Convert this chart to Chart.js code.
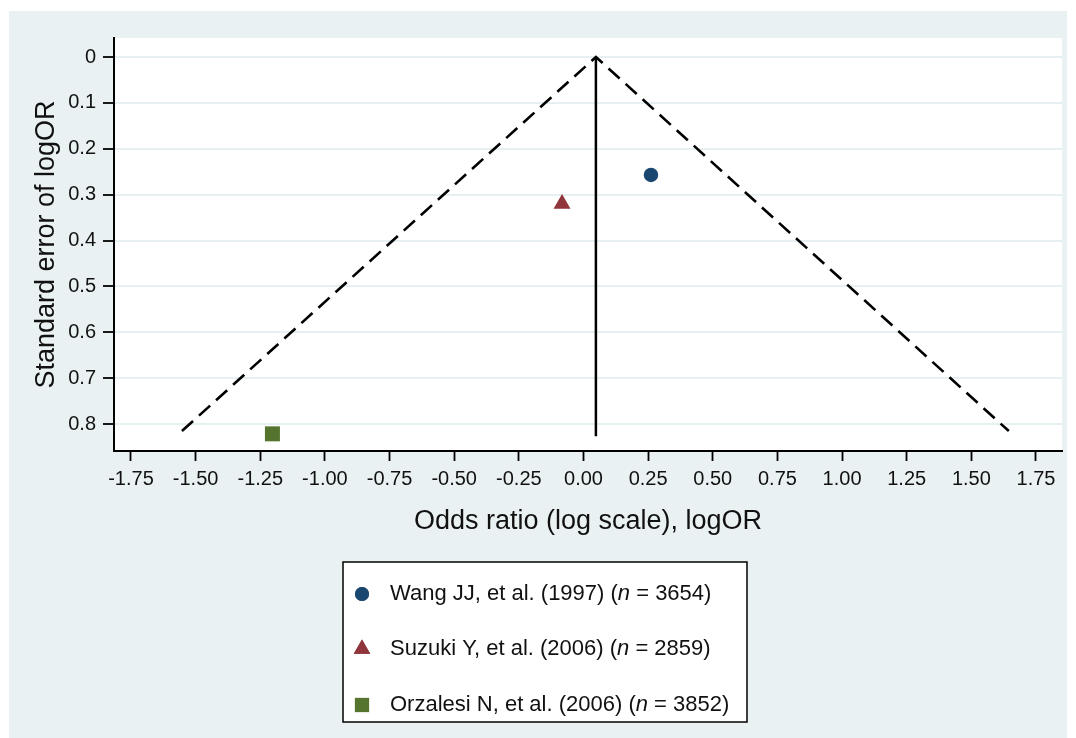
<!DOCTYPE html>
<html>
<head>
<meta charset="utf-8">
<script src="https://cdn.jsdelivr.net/npm/chart.js@4/dist/chart.umd.min.js"></script>
<style>
  body { margin: 0; background: #fff; }
</style>
</head>
<body>
<canvas id="funnel" width="1076" height="738"></canvas>
<script>
/*------------------------------------------------------------------------------------------------*/
//datos estudios
const studies = ['Wang JJ, et al. (1997)', 'Suzuki Y, et al. (2006)', 'Orzalesi N, et al. (2006)'];
const sampleSizes = [3654, 2859, 3852];
const logOR = [0.261, -0.083, -1.203];
const seLogOR = [0.257, 0.320, 0.821];
const colors = ['#1a476f', '#90353b', '#55752f'];
const markers = ['circle', 'triangle', 'rect'];
const markerSize = [7.2, 9.8, 10.6];

//funnel (pseudo 95% limits) y linea vertical
const funnelX = [-1.553, 0.048, 1.645];
const funnelSE = [0.815, 0, 0.815];
const centerX = [0.048, 0.048];
const centerSE = [0, 0.826];

//ticks
const xTicks = [-1.75, -1.5, -1.25, -1, -0.75, -0.5, -0.25, 0, 0.25, 0.5, 0.75, 1, 1.25, 1.5, 1.75];
const yTicks = [0, 0.1, 0.2, 0.3, 0.4, 0.5, 0.6, 0.7, 0.8];

const FONT = "'Liberation Sans', Arial, sans-serif";
const panelColor = '#eaf1f3';

/*------------------------------------------------------------------------------------------------*/
//datasets
const datasets = [];
for (let i = 0; i < studies.length; i++) {
    datasets.push({
        label: studies[i],
        data: [{ x: logOR[i], y: seLogOR[i] }],
        pointStyle: markers[i],
        pointRadius: markerSize[i],
        pointHoverRadius: markerSize[i],
        backgroundColor: colors[i],
        borderColor: colors[i],
        borderWidth: 0,
        showLine: false
    });
}
datasets.push({
    label: 'funnel',
    data: funnelX.map((x, i) => ({ x: x, y: funnelSE[i] })),
    showLine: true,
    borderColor: '#000',
    borderWidth: 2.6,
    borderDash: [15, 8],
    pointRadius: 0,
    fill: false
});
datasets.push({
    label: 'pooled',
    data: centerX.map((x, i) => ({ x: x, y: centerSE[i] })),
    showLine: true,
    borderColor: '#000',
    borderWidth: 2.5,
    pointRadius: 0,
    fill: false
});

/*------------------------------------------------------------------------------------------------*/
//fondo y leyenda
const backgroundPlugin = {
    id: 'background',
    beforeDraw(chart) {
        const ctx = chart.ctx;
        const a = chart.chartArea;
        ctx.save();
        ctx.fillStyle = panelColor;
        ctx.fillRect(9, 11, 1058, 727);
        ctx.fillStyle = '#fff';
        ctx.fillRect(a.left, a.top, a.right - a.left, a.bottom - a.top);
        ctx.restore();
    }
};

const legendPlugin = {
    id: 'boxLegend',
    afterDraw(chart) {
        const ctx = chart.ctx;
        ctx.save();
        ctx.fillStyle = '#fff';
        ctx.fillRect(343, 562, 404, 160);
        ctx.strokeStyle = '#000';
        ctx.lineWidth = 1.5;
        ctx.strokeRect(343, 562, 404, 160);
        const rows = [594, 649, 705];
        const legendSize = [7, 9.5, 10];
        for (let i = 0; i < studies.length; i++) {
            ctx.fillStyle = colors[i];
            ctx.strokeStyle = colors[i];
            Chart.helpers.drawPoint(ctx, { pointStyle: markers[i], radius: legendSize[i], rotation: 0, borderWidth: 0 }, 362, rows[i]);
            ctx.fill();
            ctx.fillStyle = '#111';
            ctx.textBaseline = 'middle';
            let x = 390;
            const parts = [
                [studies[i] + ' (', 'normal'],
                ['n', 'italic'],
                [' = ' + sampleSizes[i] + ')', 'normal']
            ];
            for (const p of parts) {
                ctx.font = p[1] + ' 22px ' + FONT;
                ctx.fillText(p[0], x, rows[i]);
                x += ctx.measureText(p[0]).width;
            }
        }
        ctx.restore();
    }
};

/*------------------------------------------------------------------------------------------------*/
//grafico
const ctx = document.getElementById('funnel');
const myChart = new Chart(ctx, {
    type: 'scatter',
    data: { datasets: datasets },
    plugins: [backgroundPlugin, legendPlugin],
    options: {
        responsive: false,
        animation: false,
        devicePixelRatio: 1,
        layout: { padding: { left: 0, top: 38, right: 14, bottom: 192 } },
        plugins: {
            legend: { display: false },
            tooltip: { enabled: false }
        },
        scales: {
            x: {
                type: 'linear',
                min: -1.8157,
                max: 1.8506,
                afterBuildTicks: (scale) => { scale.ticks = xTicks.map(v => ({ value: v })); },
                afterFit: (scale) => { scale.height = 95; },
                ticks: {
                    callback: (v) => Number(v).toFixed(2),
                    color: '#111',
                    font: { family: FONT, size: 20 },
                    padding: 6,
                    maxRotation: 0,
                    autoSkip: false
                },
                grid: {
                    drawOnChartArea: false,
                    tickColor: '#000',
                    tickLength: 10,
                    tickWidth: 1.8
                },
                border: { color: '#000', width: 2 },
                title: {
                    display: true,
                    text: 'Odds ratio (log scale), logOR',
                    color: '#111',
                    font: { family: FONT, size: 27 },
                    padding: { top: 0, bottom: 8 }
                }
            },
            y: {
                type: 'linear',
                reverse: true,
                min: -0.0414,
                max: 0.8584,
                afterBuildTicks: (scale) => { scale.ticks = yTicks.map(v => ({ value: v })); },
                afterFit: (scale) => { scale.width = 114; },
                ticks: {
                    callback: (v) => (v === 0 ? '0' : Number(v).toFixed(1)),
                    color: '#111',
                    font: { family: FONT, size: 20 },
                    padding: 7,
                    autoSkip: false
                },
                grid: {
                    color: '#e6eff1',
                    lineWidth: 2,
                    tickColor: '#000',
                    tickLength: 11,
                    tickWidth: 1.8
                },
                border: { color: '#000', width: 2 },
                title: {
                    display: true,
                    text: 'Standard error of logOR',
                    color: '#111',
                    font: { family: FONT, size: 27 },
                    padding: { top: 30, bottom: 0 }
                }
            }
        }
    }
});
</script>
</body>
</html>
